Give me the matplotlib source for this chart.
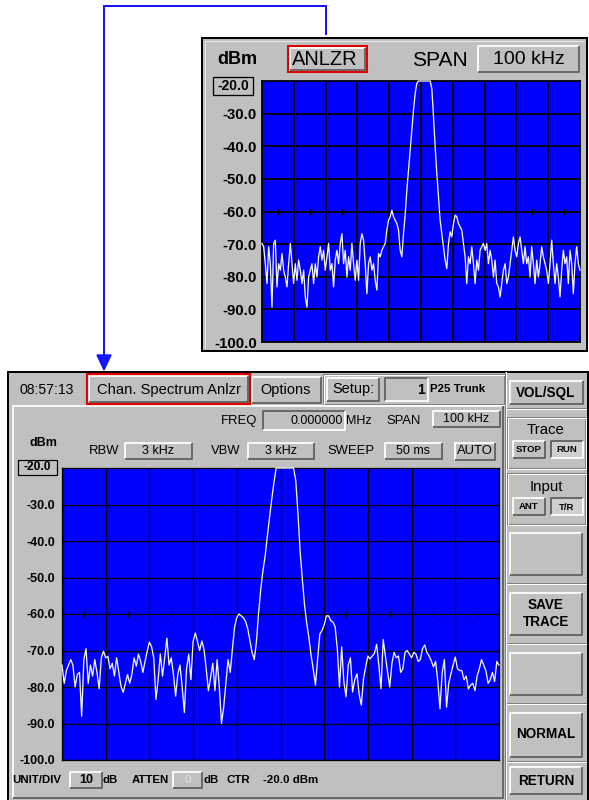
"""
频谱分析仪界面截图复刻：上方放大的 ANLZR 小窗 + 下方完整的 Chan. Spectrum Anlzr 窗口。
"""
import numpy as np
import matplotlib
matplotlib.use("Agg")
import matplotlib.pyplot as plt
from matplotlib.patches import Rectangle, Polygon

plt.rcParams["font.family"] = ["Liberation Sans", "DejaVu Sans"]

# =========================
# 数据区（从截图读出）
# =========================
SPAN_KHZ = 100
REF_DBM = -20
BOTTOM_DBM = -100
Y_TICKS = [-20, -30, -40, -50, -60, -70, -80, -90, -100]
Y_TICK_LABELS = ["-20.0", "-30.0", "-40.0", "-50.0", "-60.0", "-70.0", "-80.0", "-90.0", "-100.0"]
X_DIVS = [-50, -40, -30, -20, -10, 0, 10, 20, 30, 40, 50]
MARK_LEVEL = -60

# 上方小窗的迹线（dBm，横向等间隔扫过 100 kHz）
TOP_LEVELS = [
    -69.8, -70.8, -76.0, -82.1, -70.8, -76.0, -89.3, -69.8, -68.8, -83.1,
    -76.0, -78.0, -72.9, -78.0, -80.1, -83.1, -76.0, -69.8, -76.0, -82.1,
    -76.0, -81.1, -74.9, -78.0, -82.1, -78.0, -86.2, -89.3, -80.1, -78.0,
    -76.0, -82.1, -76.0, -80.1, -73.9, -70.8, -74.9, -71.9, -78.0, -73.9,
    -69.8, -78.0, -76.0, -83.1, -74.9, -71.9, -76.0, -69.8, -66.8, -76.0,
    -71.9, -80.1, -73.9, -78.0, -69.8, -76.0, -81.1, -74.9, -81.1, -69.8,
    -66.8, -68.8, -76.0, -85.2, -76.0, -73.9, -78.0, -76.0, -81.1, -84.1,
    -72.9, -73.9, -71.9, -70.8, -69.8, -65.7, -62.7, -61.6, -59.6, -61.6,
    -62.7, -63.7, -65.7, -71.9, -73.9, -66.8, -61.0, -53.5, -47.3, -41.2,
    -35.0, -28.9, -23.8, -20.7, -20.0, -20.0, -20.0, -20.0, -20.0, -20.0,
    -20.0, -20.0, -22.3, -30.9, -40.2, -48.3, -55.5, -62.7, -66.8, -70.8,
    -74.9, -77.5, -69.8, -66.2, -67.8, -63.7, -61.1, -61.6, -63.7, -64.7,
    -65.7, -69.8, -73.9, -82.1,
    -73.9, -76.0, -70.8, -76.0, -82.1, -74.9, -78.0, -71.9, -70.8, -69.8,
    -71.9, -69.8, -76.0, -71.9, -74.9, -80.1, -74.9, -82.1, -83.1, -86.2,
    -82.1, -78.0, -76.0, -82.1, -80.1, -76.0, -71.9, -67.8, -71.9, -73.9,
    -69.8, -67.8, -71.9, -76.0, -70.8, -76.0, -73.9, -80.1, -70.8, -76.0,
    -82.1, -74.9, -80.1, -76.0, -70.8, -73.9, -76.0, -78.0, -82.1, -76.0,
    -68.8, -76.0, -82.1, -76.0, -80.1, -86.2, -78.0, -71.9, -76.0, -73.9,
    -82.1, -71.9, -76.0, -85.2, -76.0, -70.8, -76.0, -78.0,
]

# 下方主窗的迹线（dBm，0.5 kHz 一点）
MAIN_LEVELS = [
    -74, -79, -75.5, -74, -72.5, -74, -80, -76.6, -76, -88,
    -72.5, -69.5, -79, -74, -77, -72.5, -76, -80.5, -72, -70.2,
    -72, -71.6, -75, -73.5, -77, -72, -76, -79.8, -81.5, -79,
    -76.6, -79, -76.5, -72, -74.3, -71, -73, -76, -73, -70.2,
    -67.7, -69, -72, -83.4, -78, -71, -77, -72, -66.6, -74,
    -72, -76.5, -82.5, -76.5, -74, -80, -87, -75, -71, -78,
    -67.5, -65.2, -67.5, -70, -67.4, -69.7, -75, -81, -77.5, -73.5,
    -81, -72.5, -80, -90, -85.5, -79, -72.5, -76, -69.5, -63.5,
    -61, -60, -60.5, -61, -62, -64, -67.2, -70.5, -72.5, -67.5,
    -59.5, -53, -48, -44, -38.5, -33.5, -28.5, -24, -20,
    -20, -20, -20, -20, -20, -20, -20, -20,
    -23.5, -32.5, -43, -50.5, -57.5, -62.5, -66.5, -71.3, -75.2, -79.5,
    -72.3, -65.5, -64.5, -63, -60.5, -60.5, -61.8, -62.2, -63.5, -69.5,
    -80, -69, -78.6, -82.7, -74, -72, -81.4, -78, -76.4, -82,
    -85, -77.7, -74.5, -71.5, -72.3, -71.5, -70.8, -68.3, -74, -80.5,
    -67, -71.5, -75.9, -80, -73.5, -70.5, -72, -71.5, -76, -75,
    -70.5, -70, -71, -72, -70.5, -71, -73, -72.5, -69.5, -68.5,
    -70.5, -71.5, -72.8, -74.5, -73, -78.5, -86, -76, -72.5, -85.5,
    -79, -76.4, -74, -71.8, -75, -75.5, -75.5, -78, -77, -80.5,
    -79.5, -79, -81, -77, -75, -72.5, -74, -75.5, -79, -78,
    -76, -78.5, -73, -74,
]

# =========================
# 样式 / 版面（像素坐标，原图 589x800）
# =========================
W, H = 589, 800
GRAY = "#C0C0C0"
LIGHT = "#FFFFFF"
DARK = "#808080"
SCREEN = "#0000FF"
TRACE = "#F4F4FF"
ARROW = "#1414FF"
PX = 0.72  # 1 像素 = 0.72 pt（dpi=100）


def px_axes(fig, x0, y0, x1, y1):
    return fig.add_axes([x0 / W, 1 - y1 / H, (x1 - x0) / W, (y1 - y0) / H])


def bevel(ax, x, y, w, h, raised=True, face=GRAY, lw=1.3):
    ax.add_patch(Rectangle((x, y), w, h, facecolor=face, edgecolor="none", zorder=2))
    lt, dk = (LIGHT, "#606060") if raised else ("#606060", LIGHT)
    ax.plot([x, x, x + w], [y + h, y, y], color=lt, lw=lw, zorder=3, solid_capstyle="butt")
    ax.plot([x, x + w, x + w], [y + h, y + h, y], color=dk, lw=lw, zorder=3, solid_capstyle="butt")


def groove_h(ax, x0, x1, y):
    ax.plot([x0, x1], [y, y], color=DARK, lw=1 * PX, zorder=2)
    ax.plot([x0, x1], [y + 1, y + 1], color=LIGHT, lw=1 * PX, zorder=2)


def groove_box(ax, x, y, w, h):
    ax.add_patch(Rectangle((x, y), w, h, fill=False, edgecolor=DARK, lw=1 * PX, zorder=2))
    ax.add_patch(Rectangle((x + 1, y + 1), w, h, fill=False, edgecolor=LIGHT, lw=1 * PX, zorder=2))


def label(ax, x, y, s, size_px, bold=False, ha="center", color="black"):
    ax.text(x, y, s, ha=ha, va="center", fontsize=size_px * PX,
            fontweight="bold" if bold else "normal", color=color, zorder=5)


def draw_screen(ax, levels, tick_px, tick_pad_px, grid_lw_px, trace_lw_px, tick_bold=True):
    freq = np.linspace(-SPAN_KHZ / 2, SPAN_KHZ / 2, len(levels))
    ax.set_facecolor(SCREEN)
    ax.set_xlim(-SPAN_KHZ / 2, SPAN_KHZ / 2)
    ax.set_ylim(BOTTOM_DBM, REF_DBM)
    ax.set_xticks(X_DIVS)
    ax.set_yticks(Y_TICKS[1:])
    ax.set_yticklabels(Y_TICK_LABELS[1:], fontsize=tick_px * PX,
                       fontweight="bold" if tick_bold else "normal")
    ax.tick_params(axis="x", length=0, labelbottom=False)
    ax.tick_params(axis="y", length=0, pad=tick_pad_px * PX)
    ax.grid(True, color="black", lw=grid_lw_px * PX)
    ax.set_axisbelow(True)
    for sp in ax.spines.values():
        sp.set_color("black")
        sp.set_linewidth(grid_lw_px * PX)
    mids = [(a + b) / 2 for a, b in zip(X_DIVS[:-1], X_DIVS[1:])]
    ax.plot(mids, [MARK_LEVEL] * len(mids), ls="none", marker="|", color="black",
            markersize=6 * PX, markeredgewidth=1.2 * PX, zorder=3)
    ax.plot(freq, levels, color=TRACE, lw=trace_lw_px * PX, zorder=4, clip_on=False)


fig = plt.figure(figsize=(W / 100, H / 100), dpi=100)
fig.patch.set_facecolor("white")
ui = fig.add_axes([0, 0, 1, 1])
ui.set_xlim(0, W)
ui.set_ylim(H, 0)
ui.axis("off")

# ---- 蓝色引导箭头 ----
ui.plot([326, 326, 104, 104], [34, 6, 6, 356], color=ARROW, lw=2 * PX, zorder=1,
        solid_joinstyle="miter")
ui.add_patch(Polygon([(97, 355), (111, 355), (104, 370)], closed=True,
                     facecolor=ARROW, edgecolor=ARROW, zorder=1))

# ---- 上方小窗 ----
ui.add_patch(Rectangle((202, 38), 385, 313, facecolor=GRAY, edgecolor="black", lw=2 * PX, zorder=1))
ui.plot([205, 205, 584], [348, 41, 41], color="#E8E8E8", lw=1 * PX, zorder=2)
label(ui, 237, 59, "dBm", 18, bold=True)
ui.add_patch(Rectangle((288, 46), 79, 26, fill=False, edgecolor="#E00000", lw=2 * PX, zorder=4))
bevel(ui, 290, 48, 75, 22)
label(ui, 325, 59.5, "ANLZR", 20)
label(ui, 440, 61, "SPAN", 21)
bevel(ui, 478, 46, 101, 26)
label(ui, 529, 59.5, "100 kHz", 19.5)
ui.add_patch(Rectangle((213, 77), 40, 18, facecolor=GRAY, edgecolor="black", lw=1.3 * PX, zorder=2))
label(ui, 233, 86.5, Y_TICK_LABELS[0], 14, bold=True)

top_ax = px_axes(fig, 262, 81, 580, 342)
draw_screen(top_ax, TOP_LEVELS, tick_px=15, tick_pad_px=5, grid_lw_px=1.8, trace_lw_px=1.3)

# ---- 下方主窗 ----
ui.add_patch(Rectangle((8, 372), 580, 432, facecolor=GRAY, edgecolor="black", lw=2 * PX, zorder=1))
label(ui, 47, 390, "08:57:13", 14)
ui.add_patch(Rectangle((87, 374), 163, 30, fill=False, edgecolor="#E00000", lw=2.2 * PX, zorder=4))
bevel(ui, 89, 376, 159, 26)
label(ui, 169, 390, "Chan. Spectrum Anlzr", 14.8)
bevel(ui, 252, 377, 69, 26)
label(ui, 286, 390, "Options", 14.5)
groove_box(ui, 323, 374, 181, 30)
bevel(ui, 327, 378, 52, 23)
label(ui, 353, 389.5, "Setup:", 14.5)
bevel(ui, 385, 378, 43, 23, raised=False)
label(ui, 425, 389.5, "1", 14, bold=True, ha="right")
label(ui, 430, 389.5, "P25 Trunk", 11.5, bold=True, ha="left")

# 右侧按钮列
ui.plot([505, 505], [372, 800], color=DARK, lw=1 * PX, zorder=2)
ui.plot([506, 506], [372, 800], color=LIGHT, lw=1 * PX, zorder=2)
for gy in [408, 583, 643, 703, 761]:
    groove_h(ui, 507, 586, gy)
bevel(ui, 510, 381, 73, 23)
label(ui, 546, 392.5, "VOL/SQL", 13.5, bold=True)
groove_box(ui, 507, 417, 78, 51)
label(ui, 546, 430, "Trace", 15)
bevel(ui, 513, 441, 32, 17)
label(ui, 529, 449.5, "STOP", 9.5, bold=True)
bevel(ui, 551, 441, 32, 17, raised=False, face="#CFCFCF")
label(ui, 567, 450, "RUN", 9.5, bold=True)
groove_box(ui, 507, 473, 78, 51)
label(ui, 546, 487, "Input", 15)
bevel(ui, 513, 498, 32, 17)
label(ui, 529, 506.5, "ANT", 9.5, bold=True)
bevel(ui, 551, 498, 32, 17, raised=False, face="#CFCFCF")
label(ui, 567, 507, "T/R", 9.5, bold=True)
bevel(ui, 510, 533, 72, 42)
bevel(ui, 510, 593, 72, 42)
label(ui, 546, 605, "SAVE", 13.5, bold=True)
label(ui, 546, 622, "TRACE", 13.5, bold=True)
bevel(ui, 510, 653, 72, 42)
bevel(ui, 510, 713, 72, 44)
label(ui, 546, 734, "NORMAL", 13.5, bold=True)
bevel(ui, 510, 767, 72, 27)
label(ui, 546, 781, "RETURN", 13.5, bold=True)

# 左侧主面板
bevel(ui, 13, 406, 490, 392)
label(ui, 239, 421, "FREQ", 13)
bevel(ui, 263, 411, 82, 19, raised=False)
label(ui, 343, 421, "0.000000", 12.5, ha="right")
label(ui, 359, 421, "MHz", 12.5)
label(ui, 404, 421, "SPAN", 13)
bevel(ui, 433, 411, 67, 16)
label(ui, 466, 419.5, "100 kHz", 12.5)
label(ui, 43, 443, "dBm", 12.5, bold=True)
label(ui, 104, 451, "RBW", 13)
bevel(ui, 125, 443, 67, 16)
label(ui, 158, 451, "3 kHz", 12.5)
label(ui, 226, 451, "VBW", 13)
bevel(ui, 248, 443, 66, 16)
label(ui, 281, 451, "3 kHz", 12.5)
label(ui, 351, 451, "SWEEP", 13)
bevel(ui, 385, 443, 57, 16)
label(ui, 413, 451, "50 ms", 12.5)
bevel(ui, 455, 443, 40, 17)
label(ui, 475, 451.5, "AUTO", 13)
ui.add_patch(Rectangle((18, 460), 39, 15, facecolor=GRAY, edgecolor="black", lw=1.2 * PX, zorder=3))
label(ui, 37.5, 467.5, Y_TICK_LABELS[0], 12, bold=True)

main_ax = px_axes(fig, 62, 468, 499, 760)
draw_screen(main_ax, MAIN_LEVELS, tick_px=12.5, tick_pad_px=7, grid_lw_px=1.3, trace_lw_px=1.3)

# 底部一行
label(ui, 12, 780, "UNIT/DIV", 11.5, bold=True, ha="left")
bevel(ui, 70, 772, 32, 16)
label(ui, 86, 780, "10", 12.5, bold=True)
label(ui, 110, 780, "dB", 11.5, bold=True)
label(ui, 150, 780, "ATTEN", 11.5, bold=True)
bevel(ui, 173, 772, 29, 16)
label(ui, 187.5, 780, "0", 11.5, color="#E4E4E4")
label(ui, 211, 780, "dB", 11.5, bold=True)
label(ui, 238, 780, "CTR", 11.5, bold=True)
label(ui, 263, 780, "-20.0 dBm", 11.5, bold=True, ha="left")

fig.savefig("out.png", dpi=100, facecolor=fig.get_facecolor())
plt.close(fig)
